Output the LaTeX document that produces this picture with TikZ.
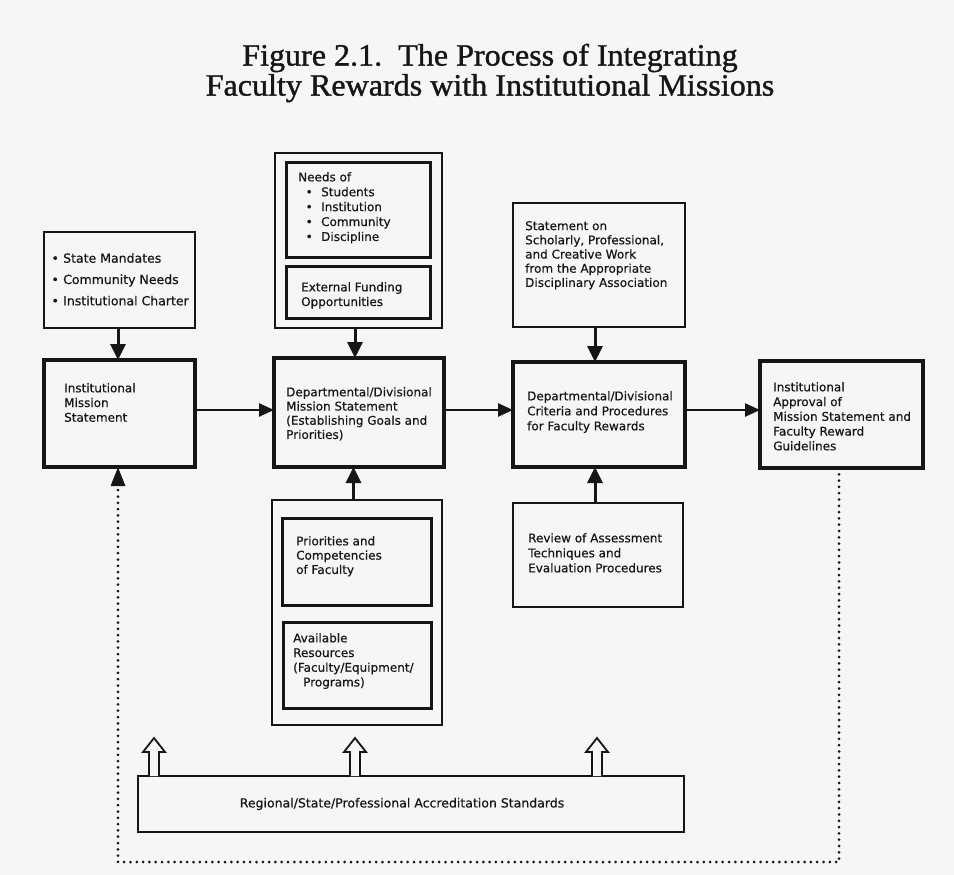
\documentclass[tikz,border=0pt]{standalone}
\usepackage{fontspec}
\setmainfont{Liberation Serif}
\newfontfamily\titlefont[FakeBold=1.2,FakeStretch=1.035]{Liberation Serif}
\newfontfamily\boxfont[FakeBold=0.5]{DejaVu Sans}
\usetikzlibrary{arrows.meta,calc}
\definecolor{ink}{RGB}{22,22,22}
\definecolor{paper}{RGB}{246,246,246}
\begin{document}
\begin{tikzpicture}[x=1pt,y=-1pt,
  box/.style={draw=ink,anchor=north west,inner sep=0pt,outer sep=0pt},
  thinbox/.style={box,line width=2pt},
  midbox/.style={box,line width=3pt},
  thickbox/.style={box,line width=4.5pt},
  txt/.style={font=\boxfont\fontsize{12}{14.7}\selectfont,align=left,inner sep=0pt,anchor=north west,text=ink},
  arr/.style={draw=ink,line width=3pt,-{Triangle[length=16pt,width=15pt]}},
  harr/.style={draw=ink,line width=2.5pt,-{Triangle[length=15pt,width=13pt]}},
  hollow/.style={draw=ink,line width=1.8pt,fill=paper,line join=miter},
  dots/.style={draw=ink,line width=3pt,line cap=round,dash pattern=on 0pt off 6.3pt}
]
\fill[paper] (0,0) rectangle (954,875);
\useasboundingbox (0,0) rectangle (954,875);

% title
\node[font=\titlefont\fontsize{31}{30}\selectfont,align=center,text=ink,inner sep=0pt] (title) at (490,73)
  {Figure 2.1.\ \ The Process of Integrating\\Faculty Rewards with Institutional Missions};

% boxes
\node[thinbox,minimum width=151pt,minimum height=96pt] (mand) at (44,232) {};
\node[thickbox,minimum width=151pt,minimum height=107pt] (ims) at (44,360) {};
\node[thinbox,minimum width=167pt,minimum height=175pt] (needsgrp) at (275,153) {};
\node[midbox,minimum width=144pt,minimum height=95pt] (needs) at (286,162) {};
\node[midbox,minimum width=144pt,minimum height=52pt] (fund) at (286,266) {};
\node[thickbox,minimum width=170pt,minimum height=109pt] (ddms) at (274,358) {};
\node[thinbox,minimum width=172pt,minimum height=124pt] (schol) at (513,203) {};
\node[thickbox,minimum width=172pt,minimum height=105pt] (crit) at (513,362) {};
\node[thickbox,minimum width=163pt,minimum height=107pt] (appr) at (760,361) {};
\node[thinbox,minimum width=170pt,minimum height=225pt] (resgrp) at (272,500) {};
\node[midbox,minimum width=149pt,minimum height=87pt] (prio) at (282,518) {};
\node[midbox,minimum width=148pt,minimum height=86pt] (avail) at (283,622) {};
\node[thinbox,minimum width=170pt,minimum height=104pt] (review) at (513,503) {};
\node[box,line width=2.3pt,minimum width=546pt,minimum height=56pt] (accr) at (138,776) {};

% texts
\node[txt,font=\boxfont\fontsize{12.5}{21.3}\selectfont] (mandt) at (55,253)
  {\makebox[0pt]{•}\hspace{8pt}State Mandates\\
   \makebox[0pt]{•}\hspace{8pt}Community Needs\\
   \makebox[0pt]{•}\hspace{8pt}Institutional Charter};
\node[txt] (imst) at (64,383) {Institutional\\Mission\\Statement};
\node[txt,font=\boxfont\fontsize{12}{14.9}\selectfont] (needst) at (298,172)
  {Needs of\\
   \hspace*{11pt}\makebox[0pt]{•}\hspace{12pt}Students\\
   \hspace*{11pt}\makebox[0pt]{•}\hspace{12pt}Institution\\
   \hspace*{11pt}\makebox[0pt]{•}\hspace{12pt}Community\\
   \hspace*{11pt}\makebox[0pt]{•}\hspace{12pt}Discipline};
\node[txt] (fundt) at (301,282) {External Funding\\Opportunities};
\node[txt,font=\boxfont\fontsize{12}{14.2}\selectfont] (ddmst) at (286,387)
  {Departmental/Divisional\\Mission Statement\\(Establishing Goals and\\Priorities)};
\node[txt,font=\boxfont\fontsize{12}{14.2}\selectfont] (scholt) at (525,221)
  {Statement on\\Scholarly, Professional,\\and Creative Work\\from the Appropriate\\Disciplinary Association};
\node[txt,font=\boxfont\fontsize{12}{15}\selectfont] (critt) at (527,391)
  {Departmental/Divisional\\Criteria and Procedures\\for Faculty Rewards};
\node[txt,font=\boxfont\fontsize{12}{14.75}\selectfont] (apprt) at (773,382)
  {Institutional\\Approval of\\Mission Statement and\\Faculty Reward\\Guidelines};
\node[txt,font=\boxfont\fontsize{12}{14.3}\selectfont] (priot) at (296,536)
  {Priorities and\\Competencies\\of Faculty};
\node[txt,font=\boxfont\fontsize{12}{14.7}\selectfont] (availt) at (293,633)
  {Available\\Resources\\(Faculty/Equipment/\\\hspace*{10pt}Programs)};
\node[txt,font=\boxfont\fontsize{12}{15}\selectfont] (reviewt) at (528,533)
  {Review of Assessment\\Techniques and\\Evaluation Procedures};
\node[txt,anchor=center,font=\boxfont\fontsize{12.5}{15}\selectfont] (accrt) at ($(accr.center)+(-9,0)$)
  {Regional/State/Professional Accreditation Standards};

% solid arrows
\draw[arr] ([xshift=-1.5pt]mand.south) -- ([xshift=-1.5pt]ims.north);
\draw[arr] ([xshift=-3.5pt]needsgrp.south) -- ([xshift=-3.5pt]needsgrp.south |- ddms.north);
\draw[arr] ([xshift=-4pt]schol.south) -- ([xshift=-4pt]crit.north);
\draw[arr] ([xshift=-3.5pt]resgrp.north) -- ([xshift=-3.5pt]resgrp.north |- ddms.south);
\draw[arr] ([xshift=-3pt]review.north) -- ([xshift=-3pt]review.north |- crit.south);
\draw[harr] ([yshift=3.5pt]ims.east) -- ([yshift=3.5pt]ims.east -| ddms.west);
\draw[harr] ([yshift=2.5pt]ddms.east) -- ([yshift=2.5pt]ddms.east -| crit.west);
\draw[harr] ([yshift=4.5pt]crit.east) -- ([yshift=4.5pt]crit.east -| appr.west);

% hollow arrows from accreditation box
\foreach \hx/\nm in {154/ha, 355/hb, 597/hc}{
  \coordinate (\nm) at (\hx,738);
  \draw[hollow] (\hx-5,776) -- (\hx-5,752) -- (\hx-11,752) -- (\nm) -- (\hx+11,752) -- (\hx+5,752) -- (\hx+5,776);
}

% dotted feedback loop
\coordinate (dr) at (839,862);
\coordinate (dl) at (118,862);
\draw[dots,-{Triangle[length=19pt,width=14pt]}] (appr.south -| dr) -- (dr) -- (dl) -- (dl |- ims.south);
\end{tikzpicture}
\end{document}
